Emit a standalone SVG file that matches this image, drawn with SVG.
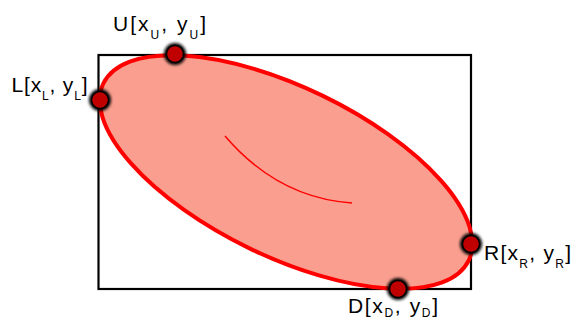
<svg xmlns="http://www.w3.org/2000/svg" width="573" height="320" viewBox="0 0 573 320">
<defs>
<style>
.lbl{font-family:"Liberation Sans","Open Sans",sans-serif;font-size:21px;fill:#000}
.sub{font-size:12px}
.dot{fill:#C00000;stroke:#000;stroke-width:1.5}
.glow{fill:#000;filter:url(#blur)}
</style>
<filter id="blur" x="-50%" y="-50%" width="200%" height="200%"><feGaussianBlur stdDeviation="1.5"/></filter>
</defs>
<rect width="573" height="320" fill="#fff"/>
<g id="box"><rect x="98.5" y="55" width="372.5" height="234" fill="none" stroke="#000" stroke-width="2.2"/></g>
<g id="ellipse">
<ellipse cx="286" cy="172" rx="203" ry="84.6" transform="rotate(25.9 286 172)" fill="#FA9F8F" stroke="#FF0000" stroke-width="4"/>
</g>
<g id="connectors">
<path d="M225,136 Q278,198 352,203" fill="none" stroke="#FF0000" stroke-width="1.5"/>
</g>
<g id="U"><circle class="glow" cx="175" cy="54" r="11"/><circle class="dot" cx="175" cy="54" r="8.5"/>
<text class="lbl" x="113" y="31" textLength="93" lengthAdjust="spacing">U[x<tspan class="sub" dy="8">U</tspan><tspan dy="-8">, y</tspan><tspan class="sub" dy="8">U</tspan><tspan dy="-8">]</tspan></text></g>
<g id="L"><circle class="glow" cx="100" cy="100" r="11"/><circle class="dot" cx="100" cy="100" r="8.5"/>
<text class="lbl" x="11.5" y="92" textLength="76" lengthAdjust="spacing">L[x<tspan class="sub" dy="8">L</tspan><tspan dy="-8">, y</tspan><tspan class="sub" dy="8">L</tspan><tspan dy="-8">]</tspan></text></g>
<g id="R"><circle class="glow" cx="471" cy="244" r="11"/><circle class="dot" cx="471" cy="244" r="8.5"/>
<text class="lbl" x="484" y="260" textLength="87" lengthAdjust="spacing">R[x<tspan class="sub" dy="8">R</tspan><tspan dy="-8">, y</tspan><tspan class="sub" dy="8">R</tspan><tspan dy="-8">]</tspan></text></g>
<g id="D"><circle class="glow" cx="398" cy="289" r="11"/><circle class="dot" cx="398" cy="289" r="8.5"/>
<text class="lbl" x="348" y="313" textLength="90" lengthAdjust="spacing">D[x<tspan class="sub" dy="4">D</tspan><tspan dy="-4">, y</tspan><tspan class="sub" dy="4">D</tspan><tspan dy="-4">]</tspan></text></g>
</svg>
